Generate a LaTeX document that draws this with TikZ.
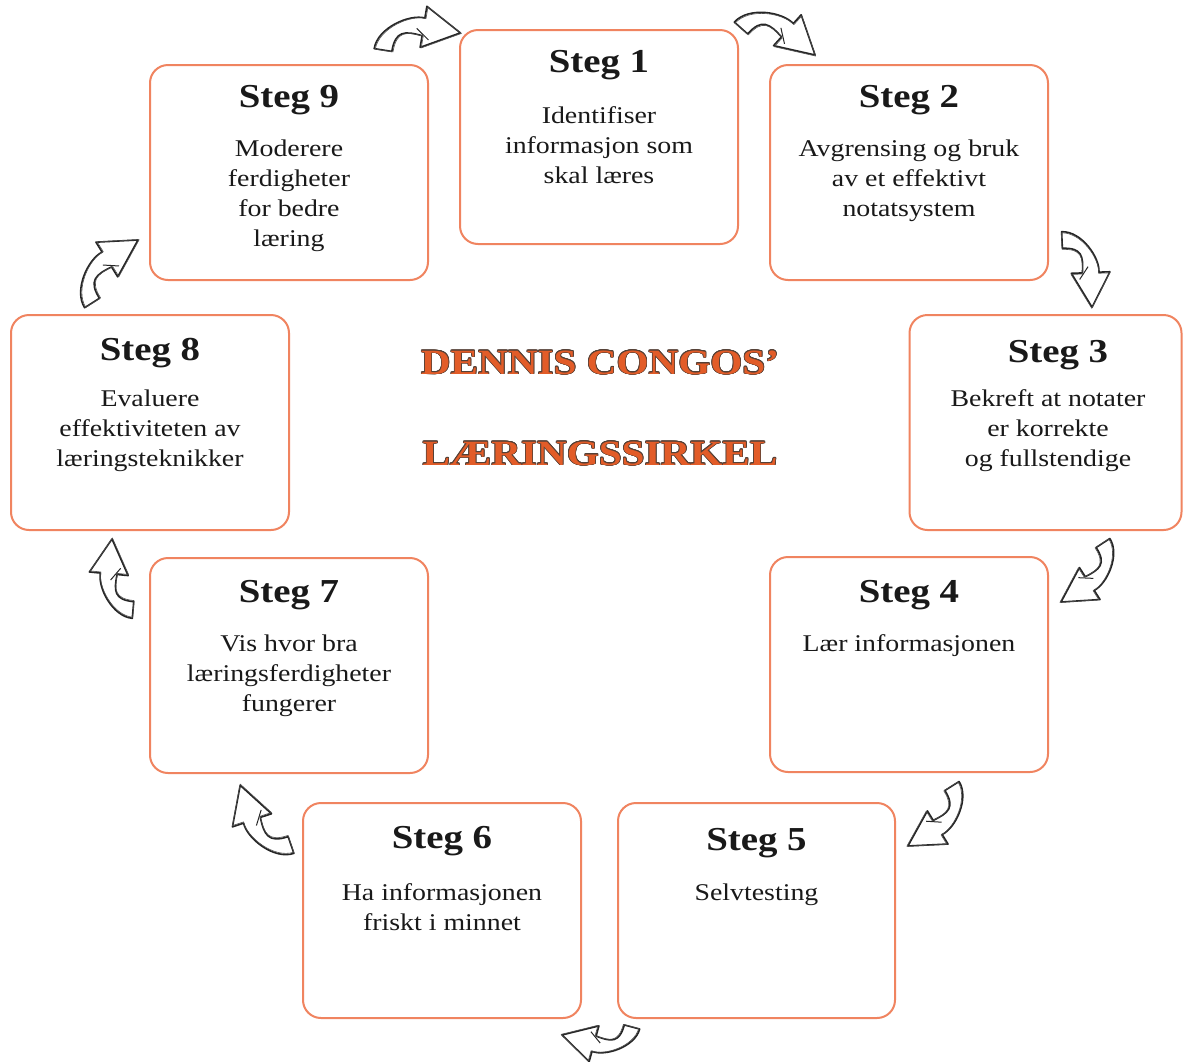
\documentclass[tikz,border=0pt]{standalone}
\usepackage{fontspec}
\setmainfont{Liberation Serif}[FakeStretch=1.16]
\usepackage[copies]{contour}
\definecolor{boxline}{RGB}{240,132,96}
\definecolor{headorange}{RGB}{226,92,40}
\definecolor{headedge}{RGB}{85,65,55}
\definecolor{inktext}{RGB}{25,25,25}
\contourlength{0.7pt}
\def\arrowshape{(-8.4,3.3) .. controls (-0.4,23.3) and (34.2,29.9) .. (48.3,22.4) -- (52.8,33.5) -- (80,0) -- (37.2,-5.5) -- (41.7,5.6) .. controls (25.8,14.1) and (16.4,16.7) .. (8.4,-3.3) -- cycle}
\tikzset{
  stepbox/.style={draw=boxline, line width=2pt, rounded corners=18pt, minimum width=278pt, minimum height=215pt, inner sep=0pt, fill=white},
  steptitle/.style={font=\fontsize{33.5}{38}\selectfont\bfseries, text=inktext, anchor=base, inner sep=0pt},
  stepbody/.style={font=\fontsize{24}{30}\selectfont, text=inktext, align=center, anchor=base, inner sep=0pt},
  headline/.style={font=\fontsize{35.5}{40}\selectfont\bfseries, text=headorange, anchor=base, inner sep=0pt},
  sketcharrow/.pic={
    \fill[white] \arrowshape;
    \draw[line width=1.6pt, line join=round, draw=black!85] \arrowshape;
    \draw[line width=0.6pt, line join=round, draw=black!70, shift={(1,-0.8)}] \arrowshape;
    \draw[line width=1pt, draw=black!85] (38,14) -- (47,0);
  }
}
\begin{document}
\begin{tikzpicture}[x=1pt,y=1pt]
\fill[white] (0,0) rectangle (1183,-1061);
\useasboundingbox (0,0) rectangle (1183,-1061);

% boxes
\node[stepbox, minimum height=214pt] (b1) at (599,-137) {};
\node[stepbox] (b2) at (909,-172.5) {};
\node[stepbox, minimum width=272pt] (b3) at (1045.5,-422.5) {};
\node[stepbox] (b4) at (909,-664.5) {};
\node[stepbox, minimum width=277pt] (b5) at (756.5,-910.5) {};
\node[stepbox] (b6) at (442,-910.5) {};
\node[stepbox] (b7) at (289,-665.5) {};
\node[stepbox] (b8) at (150,-422.5) {};
\node[stepbox] (b9) at (289,-172.5) {};

% titles
\node[steptitle] (t1) at (599,-72.5) {Steg 1};
\node[steptitle] (t2) at (909,-107.5) {Steg 2};
\node[steptitle] (t3) at (1058,-362.5) {Steg 3};
\node[steptitle] (t4) at (909,-602.5) {Steg 4};
\node[steptitle] (t5) at (756.5,-850.5) {Steg 5};
\node[steptitle] (t6) at (442,-848.5) {Steg 6};
\node[steptitle] (t7) at (289,-602.5) {Steg 7};
\node[steptitle] (t8) at (150,-360.5) {Steg 8};
\node[steptitle] (t9) at (289,-107.5) {Steg 9};

% bodies (anchor = baseline of the last line)
\node[stepbody] (x1) at (599,-183) {Identifiser\\informasjon som\\skal læres};
\node[stepbody] (x2) at (909,-216) {Avgrensing og bruk\\av et effektivt\\notatsystem};
\node[stepbody] (x3) at (1048,-466) {Bekreft at notater\\er korrekte\\og fullstendige};
\node[stepbody] (x4) at (909,-651) {Lær informasjonen};
\node[stepbody] (x5) at (756.5,-900) {Selvtesting};
\node[stepbody] (x6) at (442,-930) {Ha informasjonen\\friskt i minnet};
\node[stepbody] (x7) at (289,-711) {Vis hvor bra\\læringsferdigheter\\fungerer};
\node[stepbody] (x8) at (150,-466) {Evaluere\\effektiviteten av\\læringsteknikker};
\node[stepbody] (x9) at (289,-246) {Moderere\\ferdigheter\\for bedre\\læring};

% headline
\node[headline] (h1) at (600,-374) {\contour{headedge}{DENNIS CONGOS’}};
\node[headline] (h2) at (600,-465) {\contour{headedge}{LÆRINGSSIRKEL}};

% sketched arrows
\coordinate (a1) at (383,-50);
\coordinate (a2) at (741,-28);
\coordinate (a3) at (1062,-240);
\coordinate (a4) at (1103,-543);
\coordinate (a5) at (952,-786);
\coordinate (a6) at (632,-1027);
\coordinate (a7) at (291,-845);
\coordinate (a8) at (133,-610);
\coordinate (a9) at (92,-303);
\pic[shift={(a1)}, rotate=12.5, scale=0.99] {sketcharrow};
\pic[shift={(a2)}, rotate=-20, scale=0.985] {sketcharrow};
\pic[shift={(a3)}, rotate=-65.9, scale=0.92] {sketcharrow};
\pic[shift={(a4)}, rotate=-125.4, scale=0.905] {sketcharrow};
\pic[shift={(a5)}, rotate=-126.3, scale=0.93] {sketcharrow};
\pic[shift={(a6)}, rotate=186.5, scale=0.88] {sketcharrow};
\pic[shift={(a7)}, rotate=130.4, scale=0.98] {sketcharrow};
\pic[shift={(a8)}, rotate=106.5, scale=0.925] {sketcharrow};
\pic[shift={(a9)}, rotate=53.9, scale=0.975] {sketcharrow};
\end{tikzpicture}
\end{document}
